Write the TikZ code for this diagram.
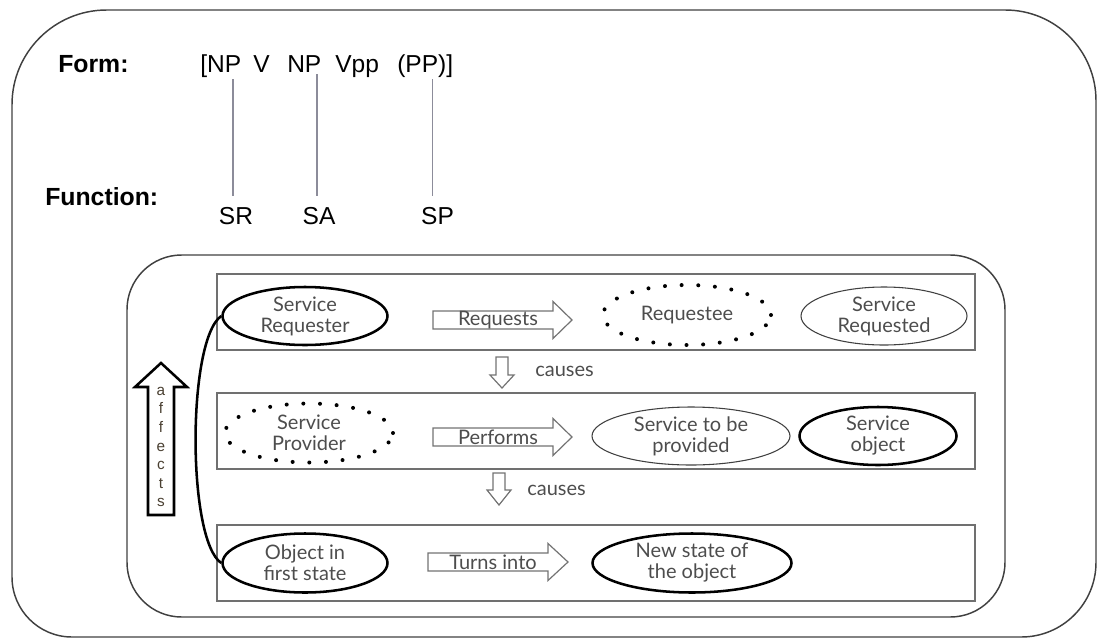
\documentclass[tikz,border=0pt]{standalone}
\usepackage{fontspec}
\setmainfont{Liberation Sans}
\newfontfamily\rowfont{Lato}
\usetikzlibrary{shapes.geometric}

\definecolor{txtgray}{HTML}{4D4D4D}
\definecolor{linkgray}{HTML}{8C8C9A}
\definecolor{boxgray}{HTML}{707070}
\definecolor{lettercol}{HTML}{4A4032}

\tikzset{
  outerbox/.style={draw=black!75, line width=1.1pt},
  rowbox/.style={draw=boxgray, line width=1pt},
  role/.style={ellipse, inner sep=0pt, align=center, text=txtgray,
    font=\rowfont\fontsize{15}{15.75}\selectfont},
  boldrole/.style={role, draw=black, line width=1.9pt},
  thinrole/.style={role, draw=black!75, line width=0.8pt},
  dotrole/.style={role, draw=black, line width=3pt, line cap=round,
    dash pattern=on 0pt off 12.5pt},
  blockarrow/.style={draw=black!55, line width=0.9pt, fill=white},
  arrowtext/.style={text=txtgray, inner sep=0pt,
    font=\rowfont\fontsize{15}{15.75}\selectfont},
  heading/.style={anchor=base west, inner sep=0pt,
    font=\bfseries\fontsize{18.6}{20}\selectfont},
  formtok/.style={anchor=base west, inner sep=0pt,
    font=\fontsize{18.4}{20}\selectfont},
  functok/.style={anchor=base, inner sep=0pt,
    font=\fontsize{18.4}{20}\selectfont},
  link/.style={draw=linkgray, line width=0.9pt},
}

% horizontal block arrow: #1 left x, #2 head x, #3 tip x, #4 centre y
\newcommand\harrow[4]{%
  \draw[blockarrow] (#1,#4-9) -- (#2,#4-9) -- (#2,#4-18.5) -- (#3,#4)
    -- (#2,#4+18.5) -- (#2,#4+9) -- (#1,#4+9) -- cycle;}
% downward block arrow: #1 centre x, #2 top y, #3 head y, #4 tip y
\newcommand\darrow[4]{%
  \draw[blockarrow] (#1-6,#2) -- (#1+6,#2) -- (#1+6,#3) -- (#1+12,#3)
    -- (#1,#4) -- (#1-12,#3) -- (#1-6,#3) -- cycle;}

\begin{document}
\begin{tikzpicture}[x=0.75pt,y=-0.75pt]
\useasboundingbox (0,0) rectangle (1097,640);

% outer frame, each corner with its own radius
\draw[outerbox] (12,300)
  {[rounded corners=71pt] -- (12,10) -- (550,10)}
  {[rounded corners=68pt] -- (1096,10) -- (1096,300)}
  {[rounded corners=56pt] -- (1096,637) -- (550,637)}
  {[rounded corners=45pt] -- (12,637) -- (12,300)} -- cycle;
% inner frame
\draw[outerbox, rounded corners=41pt] (127,255) rectangle (1005,617);

% form and function
\node[heading] (formlbl) at (58,72) {Form:};
\node[heading] (funclbl) at (45,205) {Function:};
\node[formtok] (f1) at (200,72) {[NP};
\node[formtok] (f2) at (253,72) {V};
\node[formtok] (f3) at (287,72) {NP};
\node[formtok] (f4) at (335,72) {Vpp};
\node[formtok] (f5) at (397,72) {(PP)]};
\node[functok] (SR) at (236,224) {SR};
\node[functok] (SA) at (319,224) {SA};
\node[functok] (SP) at (437.5,224) {SP};
\draw[link, shorten <=1.5pt, shorten >=8pt]
  ([xshift=-2.25pt]SR.north |- f1.south) -- ([xshift=-2.25pt]SR.north);
\draw[link, shorten <=1.5pt, shorten >=8pt]
  ([xshift=-1.5pt]SA.north |- f3.south) -- ([xshift=-1.5pt]SA.north);
\draw[link, shorten <=1.5pt, shorten >=8pt]
  ([xshift=-4pt]SP.north |- f5.south) -- ([xshift=-4pt]SP.north);

% row frames
\draw[rowbox] (217,274) rectangle (975,350);
\draw[rowbox] (217,393) rectangle (975,469);
\draw[rowbox] (217,525) rectangle (975,601);

% row 1
\node[boldrole, minimum width=123.75pt, minimum height=43.5pt] (sreq) at (305,316) {Service\\Requester};
\harrow{433}{553}{572}{320}
\node[arrowtext] (reqlbl) at (498,320) {Requests};
\node[dotrole, minimum width=126pt, minimum height=45pt] (reqee) at (687,315) {Requestee};
\node[thinrole, minimum width=124.5pt, minimum height=43.5pt] (sreqd) at (884,316) {Service\\Requested};

% causes 1
\darrow{502}{357}{375}{388}
\node[arrowtext, anchor=west] (causes1) at (535,371) {causes};

% row 2
\node[dotrole, minimum width=126pt, minimum height=44.25pt] (sprov) at (309,433) {Service\\Provider};
\harrow{433}{553}{572}{437}
\node[arrowtext] (perflbl) at (498,437) {Performs};
\node[thinrole, minimum width=148.5pt, minimum height=43.5pt] (stbp) at (691,436) {Service to be\\provided};
\node[boldrole, minimum width=117.75pt, minimum height=43.5pt] (sobj) at (878,436) {Service\\object};

% causes 2
\darrow{499}{473}{490}{505}
\node[arrowtext, anchor=west] (causes2) at (527,490) {causes};

% row 3
\node[boldrole, minimum width=123.75pt, minimum height=44.25pt] (obj1) at (305,563) {Object in\\first state};
\harrow{428}{548}{568}{562}
\node[arrowtext] (turnlbl) at (493,562) {Turns into};
\node[boldrole, minimum width=149.25pt, minimum height=44.25pt] (nstate) at (692,563) {New state of\\the object};

% affects arrow
\draw[draw=black, line width=1.9pt, line join=miter, fill=white]
  (161,363) -- (187,387) -- (174,387) -- (174,515) -- (148,515)
  -- (148,387) -- (135,387) -- cycle;
\node[inner sep=0pt, align=center, text=lettercol,
  font=\fontsize{11.5}{13.9}\selectfont] (affects) at (161,447)
  {a\\f\\f\\e\\c\\t\\s};

% link between requester and object
\draw[black, line width=1.9pt] (sreq.west) .. controls (187,340) and (187,540) .. (obj1.west);
\end{tikzpicture}
\end{document}
